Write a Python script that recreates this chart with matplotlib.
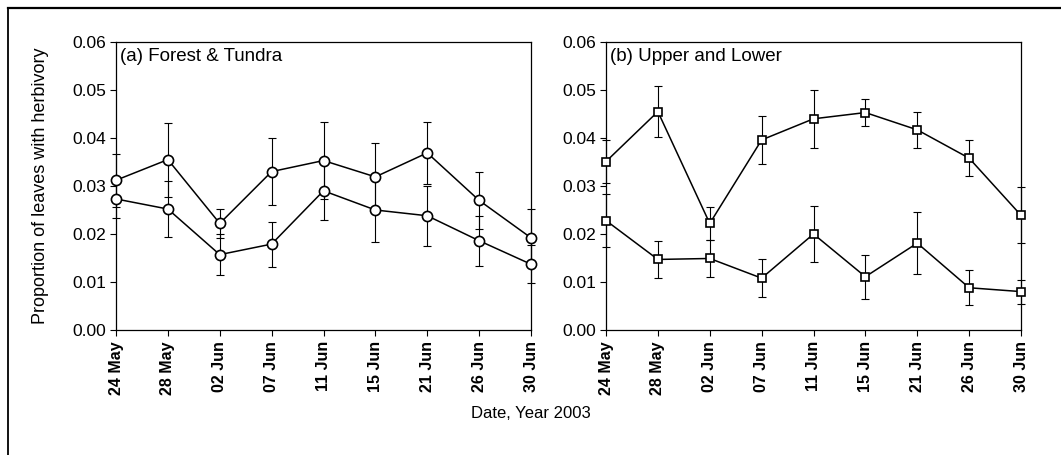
import matplotlib
matplotlib.use("Agg")
import matplotlib.pyplot as plt
from matplotlib.lines import Line2D
import numpy as np

plt.rcParams['font.family'] = ['Liberation Sans', 'DejaVu Sans']

dates = ["24 May", "28 May", "02 Jun", "07 Jun", "11 Jun", "15 Jun", "21 Jun", "26 Jun", "30 Jun"]

# Panel (a) Forest & Tundra
a_upper = [0.0312, 0.0355, 0.0222, 0.0330, 0.0353, 0.0319, 0.0369, 0.0270, 0.0192]
a_upper_err = [0.0055, 0.0077, 0.0030, 0.0070, 0.0080, 0.0070, 0.0064, 0.0060, 0.0060]
a_lower = [0.0273, 0.0252, 0.0157, 0.0179, 0.0290, 0.0250, 0.0238, 0.0186, 0.0137]
a_lower_err = [0.0040, 0.0058, 0.0042, 0.0047, 0.0060, 0.0066, 0.0062, 0.0052, 0.0040]

# Panel (b) Upper and Lower
b_upper = [0.0351, 0.0455, 0.0222, 0.0396, 0.0440, 0.0453, 0.0417, 0.0358, 0.0239]
b_upper_err = [0.0045, 0.0053, 0.0034, 0.0050, 0.0060, 0.0028, 0.0037, 0.0037, 0.0058]
b_lower = [0.0228, 0.0147, 0.0149, 0.0108, 0.0200, 0.0111, 0.0181, 0.0088, 0.0080]
b_lower_err = [0.0055, 0.0039, 0.0039, 0.0039, 0.0058, 0.0046, 0.0065, 0.0036, 0.0025]

yticks = [0.00, 0.01, 0.02, 0.03, 0.04, 0.05, 0.06]

W, H = 1061, 455
fig = plt.figure(figsize=(W / 100, H / 100), dpi=100)

def px_axes(l, r, t, b):
    return fig.add_axes([l / W, 1 - b / H, (r - l) / W, (b - t) / H])

ax_a = px_axes(116, 531, 42, 330)
ax_b = px_axes(606, 1021, 42, 330)

x = np.arange(len(dates))

def draw(ax, series, marker, ms, title):
    for vals, errs in series:
        ax.errorbar(x, vals, yerr=errs, fmt='none', ecolor='black', elinewidth=0.8,
                    capsize=2.6, capthick=0.8, clip_on=False, zorder=2)
        ax.plot(x, vals, color='black', lw=1.1, marker=marker, ms=ms,
                mfc='white', mec='black', mew=1.2, clip_on=False, zorder=3)
    ax.set_xlim(0, len(dates) - 1)
    ax.set_ylim(0, 0.06)
    ax.set_yticks(yticks)
    ax.set_yticklabels([f"{v:.2f}" for v in yticks], fontsize=12.5)
    ax.set_xticks(x)
    ax.set_xticklabels(dates, rotation=90, fontsize=11.5, fontweight='bold')
    ax.tick_params(axis='both', direction='out', length=4, width=0.8, color='black')
    ax.tick_params(axis='y', pad=3)
    ax.tick_params(axis='x', pad=4)
    for s in ax.spines.values():
        s.set_linewidth(0.9)
        s.set_color('black')
    ax.text(0.01, 0.95, title, transform=ax.transAxes, fontsize=13.5,
            ha='left', va='center')

draw(ax_a, [(a_upper, a_upper_err), (a_lower, a_lower_err)], 'o', 7.3, "(a) Forest & Tundra")
draw(ax_b, [(b_upper, b_upper_err), (b_lower, b_lower_err)], 's', 6.4, "(b) Upper and Lower")

ax_a.set_ylabel("Proportion of leaves with herbivory", fontsize=13, labelpad=17)

fig.text(531 / W, 1 - 413 / H, "Date, Year 2003", ha='center', va='center', fontsize=12)

# outer frame (top and left)
fig.add_artist(Line2D([8 / W, 1.0], [1 - 8 / H, 1 - 8 / H], color='black', lw=1.6,
                      transform=fig.transFigure))
fig.add_artist(Line2D([8 / W, 8 / W], [1 - 8 / H, 0.0], color='black', lw=1.3,
                      transform=fig.transFigure))

fig.savefig("out.png", dpi=100)
